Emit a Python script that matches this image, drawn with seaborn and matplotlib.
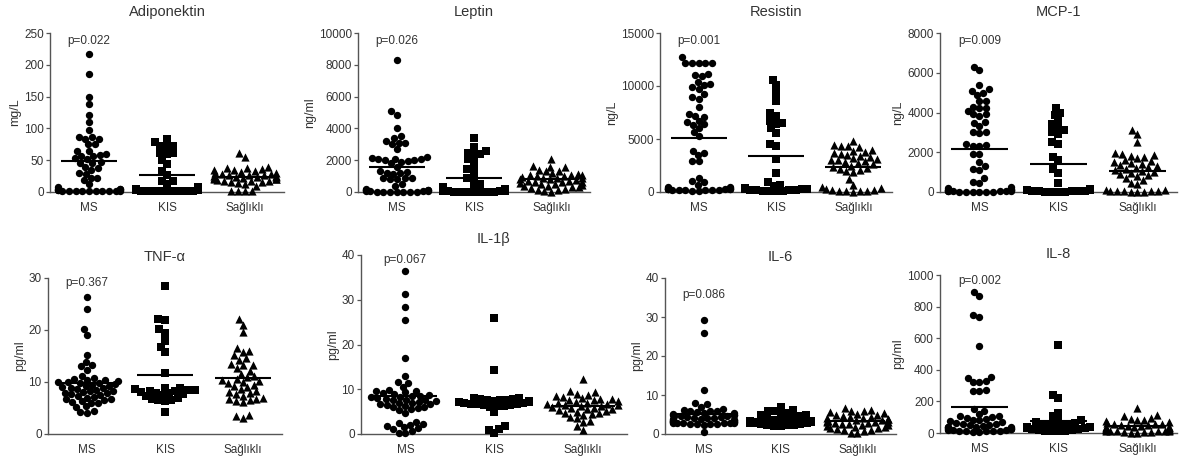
import warnings
warnings.filterwarnings("ignore")
import numpy as np
import pandas as pd
import matplotlib
matplotlib.use("Agg")
import matplotlib.pyplot as plt
import seaborn as sns

# ---------------- data ----------------
groups = ["MS", "KIS", "Sağlıklı"]

adipo_ms = [217,185,150,138,121,110,97,86,86,84,84,76,75,65,65,60,58,57,56,53,52,47,46,45,40,38,35,30,29,22,22,19,12,8,5,4,4,3,3,3,2,2,2,2,2,1,1,1,1,1]
adipo_kis = [84,78,73,72,71,62,61,60,50,44,33,27,18,17,12,8,5,4,4,3,3,2,2,2,2,1,1,1,1,1]
adipo_sag = [61,55,40,38,38,36,35,34,33,32,30,30,28,28,27,26,26,25,25,24,24,23,22,22,21,20,20,19,18,18,17,16,15,14,12,10,2,2,2,1]

leptin_ms = [8300,5100,4850,4000,3500,3400,3200,3100,3100,3000,2700,2200,2150,2100,2100,2050,2000,2000,1950,1900,1800,1600,1300,1250,1200,1200,1150,900,850,850,800,800,500,400,200,150,120,100,100,80,60,50,40,30,30,20,20,10,10,5]
leptin_kis = [3400,2800,2600,2450,2400,2300,2050,1900,1450,1400,900,850,500,400,300,200,150,100,100,80,60,50,40,30,20,20,10,10,5,5]
leptin_sag = [2100,1650,1600,1550,1400,1350,1300,1200,1150,1100,1100,1050,1000,1000,950,900,900,850,800,800,750,700,700,650,600,600,550,500,500,450,400,350,300,300,250,200,150,100,50,30]

resistin_ms = [12700,12200,12200,12200,12200,12200,11100,11000,10900,10400,10200,10100,9900,9700,9200,9000,8800,8000,7400,7200,7100,6700,6600,6400,6300,6000,5700,5300,3900,3700,3500,2900,2900,1300,1000,900,700,500,450,400,350,300,300,250,250,200,200,150,150,100,300,250,200,150,100]
resistin_kis = [10600,10100,9300,8600,7500,7200,6700,6500,6400,6000,5600,4500,4300,3100,1800,900,700,600,400,300,300,250,200,200,150,150,100,100,100,50]
resistin_sag = [4800,4400,4300,4300,4200,4000,3900,3800,3700,3600,3500,3400,3300,3200,3100,3000,3000,2900,2800,2700,2600,2500,2400,2300,2200,2100,2000,1900,1200,700,500,400,300,200,150,100,100,50,50,30]

mcp_ms = [6300,6150,5400,5200,5100,5000,4900,4600,4600,4300,4250,4250,4100,3900,3900,3800,3500,3450,3300,3000,3000,2950,2400,2350,2300,2300,1900,1900,1500,1300,1150,1100,700,500,450,250,200,150,120,100,100,80,60,50,40,30,20,20,10,10,40,30,20,10]
mcp_kis = [4250,4000,3850,3600,3400,3250,3100,3000,2900,2500,2400,1750,1600,1150,950,450,150,120,100,100,80,60,50,40,30,30,20,20,10,10]
mcp_sag = [3100,2900,2500,1950,1900,1850,1800,1750,1700,1600,1550,1500,1450,1400,1350,1300,1250,1200,1150,1100,1050,1000,950,900,850,800,700,600,450,400,100,80,60,50,50,40,30,20,20,10]

tnf_ms = [26.3,24.1,20.1,19.0,15.2,13.9,13.3,13.0,12.4,11.2,10.8,10.5,10.4,10.3,10.2,10.0,10.0,9.9,9.8,9.6,9.5,9.3,9.2,9.0,8.9,8.8,8.6,8.5,8.3,8.2,8.0,7.9,7.8,7.6,7.5,7.3,7.2,7.0,6.8,6.7,6.5,6.3,6.1,6.0,5.9,5.3,5.2,4.4,4.2,4.1]
tnf_kis = [28.5,22.1,22.0,20.1,19.5,17.9,16.7,15.8,11.8,8.9,8.8,8.6,8.5,8.4,8.3,8.2,8.0,7.9,7.8,7.6,7.5,7.3,7.0,6.8,6.6,6.5,6.4,4.2]
tnf_sag = [22.1,21.0,19.7,16.5,16.0,15.7,15.2,14.6,14.3,13.4,13.3,13.2,12.6,12.2,11.6,11.2,11.0,10.6,10.4,10.2,10.0,9.8,9.5,9.2,9.0,8.6,8.3,8.0,7.8,7.6,7.4,7.0,6.8,6.7,6.5,6.3,6.1,3.6,3.4,3.1]

il1b_ms = [36.5,31.2,28.4,25.5,17.0,13.0,11.6,11.4,10.6,9.8,9.7,9.5,9.3,9.1,9.0,8.8,8.6,8.5,8.3,8.2,8.0,7.9,7.7,7.6,7.5,7.3,7.2,7.0,6.9,6.7,6.6,6.4,6.3,6.1,6.0,5.8,5.6,5.4,4.8,2.7,2.5,2.2,2.1,1.7,1.6,1.3,1.2,0.6,0.3,0.2]
il1b_kis = [26.0,14.2,8.1,8.0,7.9,7.8,7.7,7.6,7.5,7.4,7.3,7.2,7.1,7.0,6.9,6.8,6.7,6.6,6.5,6.4,6.3,6.2,6.1,5.0,1.7,1.2,1.0,0.2]
il1b_sag = [12.4,9.6,9.3,9.0,8.8,8.5,8.3,8.1,7.9,7.8,7.6,7.5,7.3,7.2,7.0,6.9,6.8,6.7,6.5,6.4,6.3,6.2,6.0,5.9,5.8,5.6,5.5,5.3,5.1,5.0,4.8,4.6,4.4,4.3,3.8,3.5,3.0,2.7,1.8,0.8]

il6_ms = [29.2,26.0,11.4,8.0,7.8,7.0,6.5,6.2,6.0,6.0,5.8,5.6,5.5,5.3,5.2,5.0,4.9,4.8,4.7,4.6,4.5,4.4,4.3,4.2,4.1,4.0,3.9,3.8,3.7,3.6,3.5,3.4,3.3,3.3,3.2,3.1,3.0,3.0,2.9,2.9,2.8,2.8,2.7,2.7,2.6,2.6,2.5,2.5,2.4,0.6]
il6_kis = [7.0,6.2,6.0,5.8,5.5,5.2,5.0,4.8,4.5,4.3,4.1,3.9,3.7,3.6,3.4,3.3,3.1,3.0,2.9,2.8,2.7,2.6,2.5,2.4,2.3,2.2,2.1,2.0]
il6_sag = [6.6,6.2,6.0,5.8,5.6,5.4,5.2,5.0,4.8,4.6,4.4,4.3,4.1,4.0,3.9,3.8,3.6,3.5,3.4,3.3,3.2,3.1,3.0,2.9,2.8,2.6,2.5,2.4,2.2,2.0,1.9,1.8,1.6,1.5,1.3,1.1,1.0,0.8,0.3,0.2]

il8_ms = [890,865,750,735,550,355,350,330,325,320,270,268,265,150,140,120,110,105,100,95,90,85,80,75,70,65,60,55,50,50,45,40,40,35,35,30,30,25,25,25,20,20,20,15,15,10,10,10,5,5]
il8_kis = [555,240,220,125,105,85,80,70,65,60,55,50,50,45,40,40,35,35,30,30,25,25,20,20,15,15,10,10]
il8_sag = [160,115,105,95,90,85,80,75,70,65,60,55,55,50,50,45,45,40,40,35,35,30,30,25,25,25,20,20,20,15,15,15,10,10,10,8,5,5,3,2]

titles = ["Adiponektin", "Leptin", "Resistin", "MCP-1", "TNF-α", "IL-1β", "IL-6", "IL-8"]
units = ["mg/L", "ng/ml", "ng/L", "ng/L", "pg/ml", "pg/ml", "pg/ml", "pg/ml"]
pvalues = ["p=0.022", "p=0.026", "p=0.001", "p=0.009", "p=0.367", "p=0.067", "p=0.086", "p=0.002"]
ymax = [250, 10000, 15000, 8000, 30, 40, 40, 1000]
ystep = [50, 2000, 5000, 2000, 10, 10, 10, 200]
ptext_frac = [0.95, 0.95, 0.95, 0.95, 0.97, 0.97, 0.89, 0.96]

panel_data = [
    (adipo_ms, adipo_kis, adipo_sag),
    (leptin_ms, leptin_kis, leptin_sag),
    (resistin_ms, resistin_kis, resistin_sag),
    (mcp_ms, mcp_kis, mcp_sag),
    (tnf_ms, tnf_kis, tnf_sag),
    (il1b_ms, il1b_kis, il1b_sag),
    (il6_ms, il6_kis, il6_sag),
    (il8_ms, il8_kis, il8_sag),
]

# ---------------- style ----------------
sns.set_style("ticks")
plt.rcParams["font.family"] = ["Liberation Sans", "DejaVu Sans"]
TXT = "#333333"
AX = "#555555"

W, H = 1189, 463
fig = plt.figure(figsize=(W / 100, H / 100), dpi=100)

# axes boxes in pixels: left, right, top, bottom
boxes = [
    (50, 284, 33, 192),
    (358, 590, 33, 192),
    (660, 892, 33, 192),
    (940, 1177, 33, 192),
    (48, 282, 278, 434),
    (361, 627, 255, 434),
    (665, 896, 278, 434),
    (940, 1177, 275, 433),
]

markers = ["o", "s", "^"]
swarm_sizes = [4.6, 4.5, 4.8]     # spacing used by the swarm layout
draw_sizes = [5.3, 5.1, 5.9]      # marker size actually drawn (GraphPad-like overlap)
collections = []

for i, (l, r, t, b) in enumerate(boxes):
    ax = fig.add_axes([l / W, 1 - b / H, (r - l) / W, (b - t) / H])
    for k, (g, vals, mk) in enumerate(zip(groups, panel_data[i], markers)):
        df = pd.DataFrame({"grp": [g] * len(vals), "val": vals})
        n_before = len(ax.collections)
        sns.swarmplot(data=df, x="grp", y="val", order=groups, marker=mk,
                      color="black", size=swarm_sizes[k], linewidth=0, ax=ax,
                      clip_on=False, zorder=3)
        for c in ax.collections[n_before:]:
            collections.append((c, draw_sizes[k]))
        ax.hlines(np.mean(vals), k - 0.36, k + 0.36, color="black", lw=1.5, zorder=4)
    ax.set_xlim(-0.5, 2.5)
    ax.set_ylim(0, ymax[i])
    ax.set_yticks(np.arange(0, ymax[i] + ystep[i] / 2, ystep[i]))
    ax.set_xlabel("")
    ax.set_ylabel(units[i], fontsize=9, color=TXT, labelpad=2)
    ax.set_title(titles[i], fontsize=10.5, color=TXT, pad=12 if i != 5 else 9)
    ax.text(0, ymax[i] * ptext_frac[i], pvalues[i], ha="center", va="center",
            fontsize=8.5, color=TXT)
    for s in ["top", "right"]:
        ax.spines[s].set_visible(False)
    for s in ["left", "bottom"]:
        ax.spines[s].set_color(AX)
        ax.spines[s].set_linewidth(1.0)
    ax.tick_params(axis="y", length=3, width=0.9, color=AX, labelsize=8.5,
                   labelcolor=TXT, pad=1.5)
    ax.tick_params(axis="x", length=0, labelsize=8.5, labelcolor=TXT, pad=7)

# let seaborn lay out the swarms, then freeze positions and enlarge markers
fig.canvas.draw()
for c, ds in collections:
    if "draw" in c.__dict__:
        del c.draw
    c.set_sizes([ds ** 2])

fig.savefig("out.png", dpi=100, facecolor="white")
